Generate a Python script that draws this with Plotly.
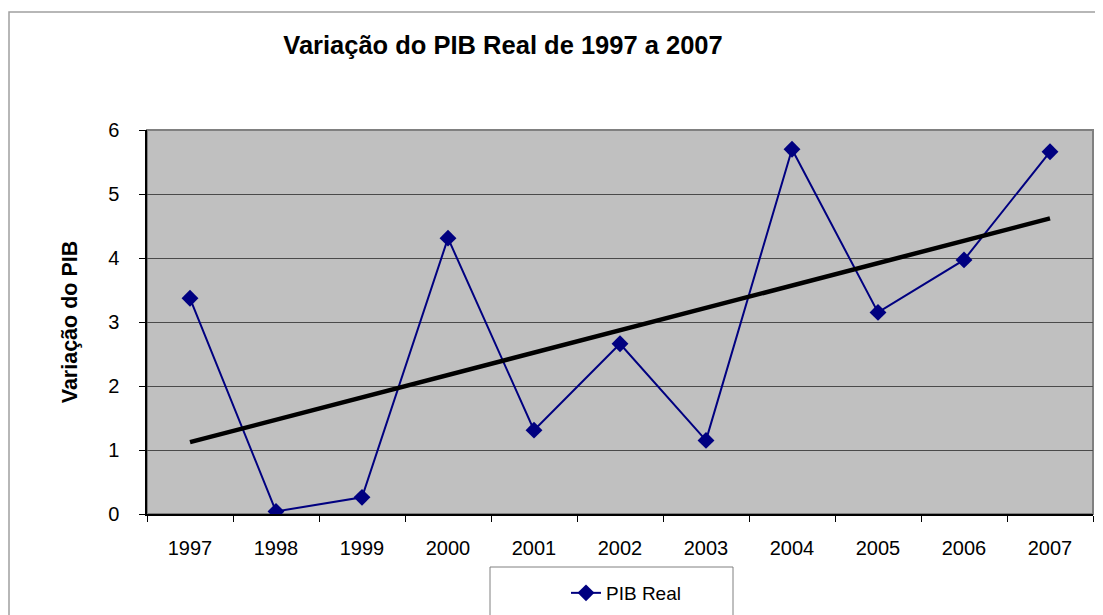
import numpy as np
import plotly.graph_objects as go

# Data
years = ["1997", "1998", "1999", "2000", "2001", "2002", "2003", "2004", "2005", "2006", "2007"]
pib_real = [3.37, 0.04, 0.26, 4.31, 1.31, 2.66, 1.15, 5.70, 3.15, 3.97, 5.66]
y_ticks = [0, 1, 2, 3, 4, 5, 6]

title_text = "Variação do PIB Real de 1997 a 2007"
y_title = "Variação do PIB"
series_name = "PIB Real"

# Linear trendline (least squares, as Excel does)
idx = np.arange(len(years))
slope, intercept = np.polyfit(idx, pib_real, 1)
trend = slope * idx + intercept

# page body has an 8px default margin; size the figure so it fills the window
OFF = 8
SW, SH = 1103, 615
W, H = SW - OFF, SH - OFF
# plot area in screen pixels
PL, PR, PT, PB = 147, 1093, 130, 514
ML, MR, MT, MB = PL - OFF, SW - PR, PT - OFF, SH - PB
PW, PH = PR - PL, PB - PT


def px_x(p):
    return (p - PL) / PW


def px_y(p):
    return (PB - p) / PH


FONT = "Liberation Sans, Arial, sans-serif"

fig = go.Figure()
fig.add_trace(go.Scatter(
    x=years, y=pib_real, name=series_name, mode="lines+markers",
    line=dict(color="#000080", width=2),
    marker=dict(symbol="diamond", size=13, color="#000080"),
))
fig.add_trace(go.Scatter(
    x=years, y=trend, mode="lines", showlegend=False, hoverinfo="skip",
    line=dict(color="#000000", width=4.5),
))

shapes = [
    # outer chart border
    dict(type="rect", xref="paper", yref="paper",
         x0=px_x(9), x1=px_x(1115), y0=px_y(630), y1=px_y(12),
         line=dict(color="#a0a0a0", width=1.5), fillcolor="rgba(0,0,0,0)", layer="below"),
    # plot-area border (top/right gray)
    dict(type="rect", xref="paper", yref="paper", x0=0, x1=1, y0=0, y1=1,
         line=dict(color="#808080", width=2), fillcolor="rgba(0,0,0,0)", layer="below"),
    # legend box
    dict(type="rect", xref="paper", yref="paper",
         x0=px_x(490), x1=px_x(733), y0=px_y(630), y1=px_y(567),
         line=dict(color="#808080", width=1), fillcolor="white", layer="above"),
]

fig.update_layout(
    width=W, height=H,
    margin=dict(l=ML, r=MR, t=MT, b=MB, autoexpand=False),
    paper_bgcolor="white", plot_bgcolor="#c0c0c0",
    font=dict(family=FONT, size=20, color="black"),
    title=dict(text="<b>" + title_text + "</b>", font=dict(size=25.5, family=FONT, color="black"),
               xref="paper", x=px_x(503), xanchor="center",
               yref="container", y=1 - (45 - OFF) / H, yanchor="middle"),
    shapes=shapes,
    showlegend=True,
    legend=dict(x=px_x(566), y=px_y(593), xanchor="left", yanchor="middle",
                bgcolor="rgba(0,0,0,0)", borderwidth=0,
                font=dict(size=19, family=FONT, color="black")),
    xaxis=dict(type="category", range=[-0.5, 10.5], showgrid=False,
               showline=True, linecolor="black", linewidth=1.5,
               ticks="outside", tickson="boundaries", ticklen=6, tickcolor="black",
               ticklabelstandoff=15, tickfont=dict(size=20, family=FONT),
               fixedrange=True, zeroline=False),
    yaxis=dict(range=[0, 6], tickvals=y_ticks, showgrid=True, gridcolor="#4a4a4a", gridwidth=1,
               showline=True, linecolor="black", linewidth=1.5,
               ticks="outside", ticklen=6, tickcolor="black",
               ticklabelstandoff=16, tickfont=dict(size=20, family=FONT),
               zeroline=False, fixedrange=True,
               title=dict(text="<b>" + y_title + "</b>", font=dict(size=21.5, family=FONT),
                          standoff=25)),
)

fig.write_html("out.html")
